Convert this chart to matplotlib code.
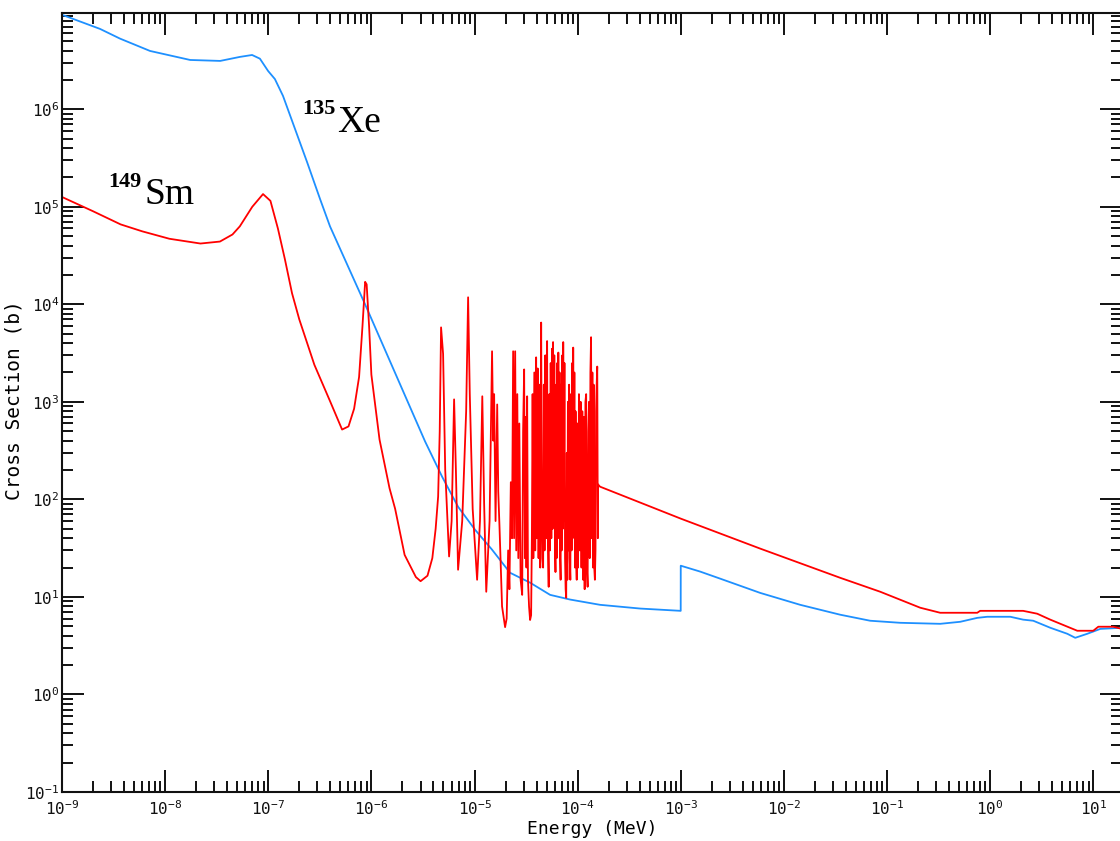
import numpy as np
import matplotlib
matplotlib.use("Agg")
import matplotlib.pyplot as plt
from matplotlib.ticker import LogLocator, FuncFormatter, NullFormatter

# 135Xe total cross section (energy in MeV, sigma in barns)
xe_energy = [1e-9, 2.34e-9, 3.65e-9, 7.14e-9, 1.75e-8, 3.42e-8, 5.3e-8, 6.97e-8,
             8.3e-8, 9.96e-8, 1.16e-7, 1.39e-7, 1.82e-7, 2.38e-7, 3.18e-7, 3.97e-7,
             8.69e-7, 1.9e-6, 3.32e-6, 4.85e-6, 6.93e-6, 1.01e-5, 1.48e-5, 2.21e-5,
             3.46e-5, 5.41e-5, 8.45e-5, 1.65e-4, 4.04e-4, 9.99e-4, 1.0e-3, 1.54e-3,
             2.41e-3, 5.89e-3, 1.44e-2, 3.52e-2, 6.87e-2, 0.134, 0.328, 0.513, 0.75,
             0.938, 1.57, 2.09, 2.62, 3.83, 5.6, 6.69, 8.75, 11.7, 19.0]
xe_sigma = [9.3e6, 6.66e6, 5.3e6, 3.96e6, 3.2e6, 3.13e6, 3.44e6, 3.6e6,
            3.3e6, 2.47e6, 2.04e6, 1.37e6, 6.26e5, 2.87e5, 1.2e5, 6.3e4,
            1.0e4, 1.51e3, 392, 171, 84, 49, 30.5, 17.7,
            14, 10.5, 9.4, 8.3, 7.6, 7.2, 20.9, 18.2,
            15.4, 11, 8.3, 6.57, 5.7, 5.43, 5.3, 5.56, 6.1,
            6.26, 6.26, 5.85, 5.7, 4.83, 4.19, 3.81, 4.19, 4.7, 4.83]

# 149Sm total cross section: thermal part, resolved resonances, fast part
sm_energy = [1e-9, 2e-9, 3.7e-9, 6e-9, 1.1e-8, 2.2e-8, 3.4e-8, 4.5e-8, 5.3e-8, 7e-8,
             8.9e-8, 1.05e-7, 1.24e-7, 1.45e-7, 1.7e-7, 2.0e-7, 2.8e-7, 4.0e-7, 5.2e-7,
             6.0e-7, 6.8e-7, 7.6e-7, 8.2e-7, 8.7e-7, 9.0e-7, 9.5e-7, 1.0e-6, 1.2e-6,
             1.5e-6, 1.7e-6, 2.1e-6, 2.7e-6, 3.0e-6, 3.5e-6, 3.9e-6, 4.2e-6, 4.44e-6,
             4.6e-6, 4.74e-6, 4.96e-6, 5.2e-6, 5.67e-6, 6.0e-6, 6.34e-6, 6.6e-6, 6.93e-6,
             7.6e-6, 8.3e-6, 8.67e-6, 9.0e-6, 9.6e-6, 1.06e-5, 1.13e-5, 1.19e-5, 1.24e-5,
             1.30e-5, 1.40e-5, 1.48e-5, 1.52e-5, 1.55e-5, 1.60e-5, 1.66e-5, 1.70e-5,
             1.75e-5, 1.85e-5, 1.98e-5, 2.05e-5, 2.12e-5, 2.18e-5, 2.25e-5, 2.31e-5,
             2.37e-5, 2.42e-5, 2.48e-5, 2.54e-5, 2.6e-5, 2.66e-5, 2.72e-5, 2.8e-5, 2.9e-5,
             2.96e-5, 3.03e-5, 3.08e-5, 3.14e-5, 3.19e-5, 3.24e-5, 3.3e-5, 3.38e-5,
             3.46e-5, 3.54e-5, 3.6e-5, 3.66e-5, 3.72e-5, 3.8e-5, 3.88e-5, 3.96e-5,
             4.02e-5, 4.1e-5, 4.18e-5, 4.26e-5, 4.34e-5, 4.43e-5, 4.5e-5, 4.56e-5,
             4.63e-5, 4.7e-5, 4.78e-5, 4.86e-5, 4.95e-5, 5.06e-5, 5.12e-5, 5.18e-5,
             5.24e-5, 5.32e-5, 5.4e-5, 5.48e-5, 5.56e-5, 5.64e-5, 5.72e-5, 5.78e-5,
             5.86e-5, 5.94e-5, 6.02e-5, 6.1e-5, 6.18e-5, 6.26e-5, 6.34e-5, 6.42e-5,
             6.5e-5, 6.6e-5, 6.68e-5, 6.76e-5, 6.84e-5, 6.92e-5, 7.0e-5, 7.1e-5,
             7.18e-5, 7.25e-5, 7.35e-5, 7.45e-5, 7.55e-5, 7.65e-5, 7.75e-5, 7.85e-5,
             7.95e-5, 8.05e-5, 8.15e-5, 8.27e-5, 8.38e-5, 8.5e-5, 8.62e-5, 8.74e-5,
             8.86e-5, 8.96e-5, 9.06e-5, 9.18e-5, 9.3e-5, 9.42e-5, 9.55e-5, 9.68e-5,
             9.8e-5, 9.93e-5, 1.01e-4, 1.03e-4, 1.05e-4, 1.07e-4, 1.09e-4, 1.11e-4,
             1.13e-4, 1.15e-4, 1.17e-4, 1.19e-4, 1.21e-4, 1.23e-4, 1.25e-4, 1.27e-4,
             1.29e-4, 1.31e-4, 1.33e-4, 1.35e-4, 1.37e-4, 1.39e-4, 1.41e-4, 1.43e-4,
             1.45e-4, 1.47e-4, 1.49e-4, 1.51e-4, 1.53e-4, 1.55e-4, 1.57e-4, 1.58e-4,
             1.65e-4, 1.0e-3, 5.89e-3, 3.52e-2, 8.6e-2, 0.134, 0.21, 0.328, 0.75, 0.8,
             2.09, 2.86, 3.83, 5.6, 7.0, 10.0, 11.2, 15.6, 19.0]
sm_sigma = [1.26e5, 9.0e4, 6.6e4, 5.6e4, 4.7e4, 4.2e4, 4.4e4, 5.2e4, 6.3e4, 1.0e5,
            1.35e5, 1.15e5, 6e4, 2.9e4, 1.3e4, 7e3, 2.4e3, 1.0e3, 520,
            560, 850, 1.8e3, 6e3, 1.7e4, 1.6e4, 6e3, 1.9e3, 410,
            130, 80, 27, 16, 14.5, 16.5, 25, 50, 107,
            500, 5.8e3, 3.1e3, 200, 26, 60, 1.06e3, 200, 19,
            60, 800, 1.18e4, 1.2e3, 80, 15, 60, 1.14e3, 90,
            11.3, 60, 3.3e3, 400, 1.2e3, 60, 940, 120,
            50, 8, 4.9, 6, 30, 12, 150, 40,
            3.3e3, 40, 3.3e3, 30, 1.2e3, 25, 600, 15, 10.5,
            500, 2.15e3, 25, 700, 20, 1.14e3, 15, 8,
            5.8, 6.5, 40, 1.2e3, 25, 2e3, 30, 2.86e3,
            40, 2.2e3, 25, 1.5e3, 20, 6.5e3, 60, 25,
            20, 1.5e3, 30, 3e3, 40, 4.2e3, 60, 25,
            12.7, 1.2e3, 30, 2.5e3, 40, 3.5e3, 50, 4.1e3,
            80, 3e3, 40, 18, 1.5e3, 25, 2.5e3, 60,
            3.2e3, 40, 2e3, 25, 15, 1.5e3, 30, 3e3,
            50, 4.1e3, 60, 2.5e3, 25, 12, 9.8, 300,
            15, 1e3, 30, 1.5e3, 25, 15, 1.2e3, 30,
            2.5e3, 40, 3.6e3, 50, 2e3, 20, 800, 25,
            15, 600, 20, 1.2e3, 30, 1e3, 20, 800,
            15, 700, 12, 1e3, 1.2e3, 20, 12.7, 500,
            1e3, 25, 2e3, 4.6e3, 40, 2e3, 20, 1.5e3,
            20, 15, 30, 800, 1.5e3, 2.3e3, 40, 142,
            135, 63.5, 31.3, 15.7, 11.3, 9.36, 7.75, 6.88, 6.88, 7.2,
            7.2, 6.73, 5.85, 4.95, 4.5, 4.5, 4.95, 4.95, 4.7]

plt.rcParams['font.family'] = ['DejaVu Sans Mono']

fig = plt.figure(figsize=(11.2, 8.41), dpi=100)
W, H = 1120, 841
ax = fig.add_axes([62 / W, 1 - 792 / H, (1122 - 62) / W, (792 - 13) / H])

ax.plot(xe_energy, xe_sigma, color='#1E90FF', lw=1.3)
ax.plot(sm_energy, sm_sigma, color='#FF0000', lw=1.3)

ax.set_xscale('log')
ax.set_yscale('log')
ax.set_xlim(1e-9, 19)
ax.set_ylim(1e-1, 9.7e6)

fmt = FuncFormatter(lambda v, pos: r'$\mathdefault{10^{%d}}$' % int(round(np.log10(v))))
for axis in (ax.xaxis, ax.yaxis):
    axis.set_major_locator(LogLocator(base=10, numticks=30))
    axis.set_minor_locator(LogLocator(base=10, subs=np.arange(2, 10), numticks=30))
    axis.set_major_formatter(fmt)
    axis.set_minor_formatter(NullFormatter())

ax.tick_params(which='both', direction='in', top=True, right=True, width=1.4,
               labelsize=11.5, colors='#111111')
ax.tick_params(which='major', length=16)
ax.tick_params(which='minor', length=8)
ax.tick_params(axis='y', pad=2)
ax.tick_params(axis='x', pad=5)
for s in ax.spines.values():
    s.set_linewidth(1.5)
    s.set_color('#111111')

ax.set_xlabel('Energy (MeV)', fontsize=13)
ax.xaxis.set_label_coords(0.5, -0.036)
ax.set_ylabel('Cross Section (b)', fontsize=14)
ax.yaxis.set_label_coords(-0.036, 0.503)

serif = ['Liberation Serif', 'DejaVu Serif']
ax.text(2.13e-7, 8.9e5, '135', family=serif, fontweight='bold', fontsize=16,
        ha='left', va='baseline')
ax.text(4.65e-7, 5.8e5, 'Xe', family=serif, fontsize=27, ha='left', va='baseline')
ax.text(2.79e-9, 1.59e5, '149', family=serif, fontweight='bold', fontsize=16,
        ha='left', va='baseline')
ax.text(6.38e-9, 1.06e5, 'Sm', family=serif, fontsize=27, ha='left', va='baseline')

fig.savefig('out.png', dpi=100)
